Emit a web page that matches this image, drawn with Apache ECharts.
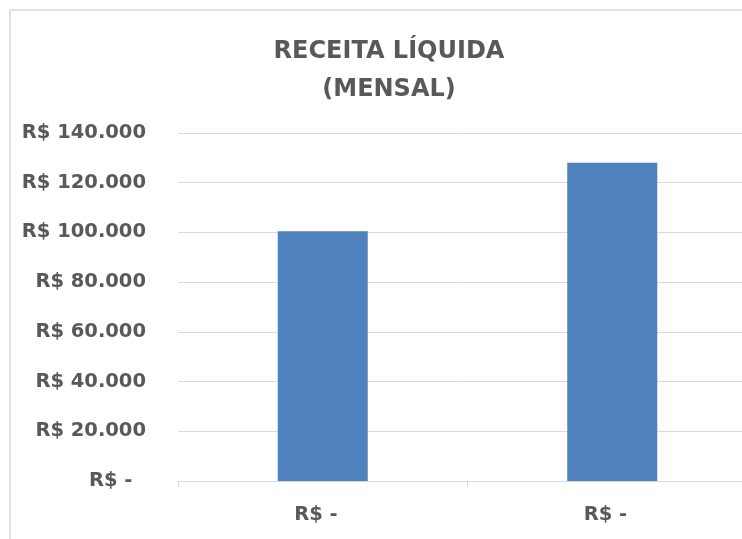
<!DOCTYPE html>
<html>
<head>
<meta charset="utf-8">
<script src="https://cdn.jsdelivr.net/npm/echarts@6/dist/echarts.min.js"></script>
<style>
  html, body { margin: 0; padding: 0; background: #fff; }
  #chart { width: 742px; height: 539px; }
</style>
</head>
<body>
<div id="chart"></div>
<script>
var categories = ['R$ -', 'R$ -'];
var values = [100500, 128000];
var yTicks = [0, 20000, 40000, 60000, 80000, 100000, 120000, 140000];

// formato contabil: "R$ 140.000", zero vira "R$ -"
function money(v) {
  if (v === 0) return 'R$ -  ';
  return 'R$ ' + String(v).replace(/\B(?=(\d{3})+(?!\d))/g, '.');
}

var chart = echarts.init(document.getElementById('chart'), null, { renderer: 'canvas' });

var font = 'DejaVu Sans';
var textColor = '#595959';

var option = {
  animation: false,
  backgroundColor: '#fff',
  title: {
    text: 'RECEITA LÍQUIDA\n(MENSAL)',
    left: 384,
    top: 28,
    textAlign: 'center',
    textStyle: {
      fontFamily: font,
      fontWeight: 'bold',
      fontSize: 24,
      lineHeight: 38,
      color: textColor
    }
  },
  graphic: [{
    type: 'rect',
    shape: { x: 10, y: 10, width: 900, height: 700 },
    style: { fill: 'none', stroke: '#d9d9d9', lineWidth: 1.5 },
    silent: true
  }],
  // o grafico original passa da borda direita
  grid: { left: 178, right: -15, top: 133, bottom: 58, outerBoundsMode: 'none' },
  xAxis: {
    type: 'category',
    data: categories,
    axisLine: { lineStyle: { color: '#d9d9d9', width: 1 } },
    axisTick: { show: true, length: 6, lineStyle: { color: '#d9d9d9' } },
    axisLabel: {
      margin: 24,
      fontFamily: font,
      fontWeight: 'bold',
      fontSize: 19.5,
      color: textColor,
      formatter: function (v) { return v + '  '; }
    }
  },
  yAxis: {
    type: 'value',
    min: yTicks[0],
    max: yTicks[yTicks.length - 1],
    interval: yTicks[1] - yTicks[0],
    axisLine: { show: false },
    axisTick: { show: false },
    splitLine: { lineStyle: { color: '#d9d9d9', width: 1 } },
    axisLabel: {
      margin: 32,
      fontFamily: font,
      fontWeight: 'bold',
      fontSize: 19.5,
      color: textColor,
      formatter: money
    }
  },
  series: [{
    type: 'bar',
    data: values,
    barWidth: 90,
    silent: true,
    itemStyle: { color: '#4f81bd' }
  }]
};
chart.setOption(option);
</script>
</body>
</html>
